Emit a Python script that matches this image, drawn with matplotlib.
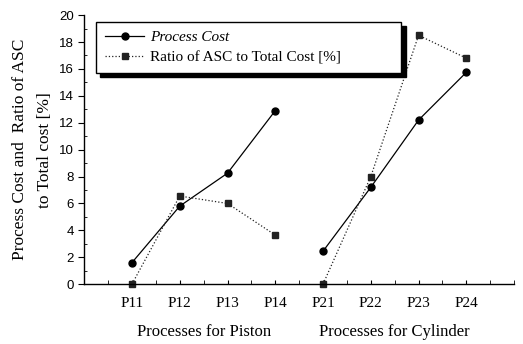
import numpy as np
import matplotlib.pyplot as plt
from matplotlib.ticker import MultipleLocator

# values
labels = ['P11', 'P12', 'P13', 'P14', 'P21', 'P22', 'P23', 'P24']
cost_piston = [1.6, 5.8, 8.25, 12.9]
cost_cylinder = [2.45, 7.2, 12.2, 15.75]
ratio_piston = [0.0, 6.55, 6.0, 3.65]
ratio_cylinder = [0.0, 8.0, 18.5, 16.8]

serif = 'Liberation Serif'
sans = 'Liberation Sans'

fig = plt.figure(figsize=(5.23, 3.44), dpi=100)
ax = fig.add_axes([0.161, 0.174, 0.822, 0.782])

xp = np.arange(1, 5)
xc = np.arange(5, 9)

# process cost: solid with circles
l1, = ax.plot(xp, cost_piston, '-', color='black', lw=0.9, marker='o', ms=5,
              label='Process Cost', clip_on=False)
ax.plot(xc, cost_cylinder, '-', color='black', lw=0.9, marker='o', ms=5, clip_on=False)

# ratio: dotted with squares
l2, = ax.plot(xp, ratio_piston, ':', color='#222222', lw=0.9, marker='s', ms=4.5,
              label='Ratio of ASC to Total Cost [%]', clip_on=False)
ax.plot(xc, ratio_cylinder, ':', color='#222222', lw=0.9, marker='s', ms=4.5, clip_on=False)

ax.set_xlim(0, 9)
ax.set_ylim(0, 20)
ax.set_xticks(range(1, 9))
ax.set_xticklabels(labels, fontfamily=serif, fontsize=11)
ax.xaxis.set_minor_locator(MultipleLocator(0.5))
ax.tick_params(axis='x', which='both', direction='in', length=3, pad=9)
ax.yaxis.set_major_locator(MultipleLocator(2))
ax.yaxis.set_minor_locator(MultipleLocator(1))
ax.tick_params(axis='y', which='major', direction='out', length=4, labelsize=9.5)
ax.tick_params(axis='y', which='minor', direction='in', length=2)
for t in ax.get_yticklabels():
    t.set_fontfamily(sans)

ax.spines['top'].set_visible(False)
ax.spines['right'].set_visible(False)
ax.spines['left'].set_linewidth(1.0)
ax.spines['bottom'].set_linewidth(1.0)

ax.set_ylabel('Process Cost and  Ratio of ASC\nto Total cost [%]', fontfamily=serif,
              fontsize=12.5, labelpad=4, linespacing=1.75)

ax.text(2.5, -0.15, 'Processes for Piston', transform=ax.get_xaxis_transform(),
        ha='center', va='top', fontfamily=serif, fontsize=12)
ax.text(6.5, -0.15, 'Processes for Cylinder', transform=ax.get_xaxis_transform(),
        ha='center', va='top', fontfamily=serif, fontsize=12)

leg = ax.legend(handles=[l1, l2], loc='upper left', mode='expand',
                bbox_to_anchor=(0.028, 0.80, 0.71, 0.175), borderaxespad=0,
                fancybox=False, shadow={'color': 'black', 'alpha': 1, 'ox': 3, 'oy': -3},
                framealpha=1, edgecolor='black', handlelength=2.6, handletextpad=0.4,
                labelspacing=0.45, borderpad=0.55, prop={'family': serif, 'size': 11})
leg.get_frame().set_linewidth(1.0)
leg.get_texts()[0].set_fontstyle('italic')

fig.savefig('out.png', dpi=100)
